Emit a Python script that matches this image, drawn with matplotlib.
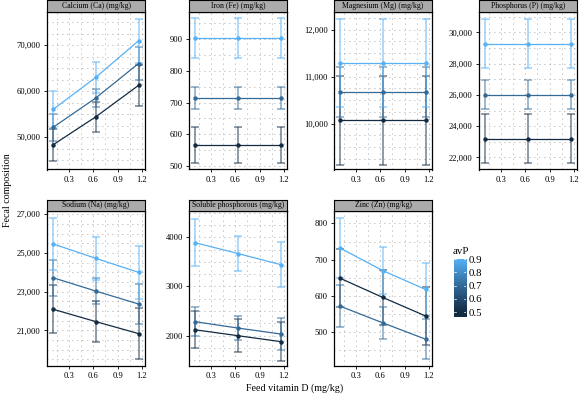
import matplotlib
matplotlib.use("Agg")
import matplotlib.pyplot as plt
import numpy as np
from matplotlib.colors import LinearSegmentedColormap, Normalize
from matplotlib.ticker import FixedLocator, MultipleLocator, FuncFormatter

plt.rcParams['font.family'] = ['Liberation Serif', 'DejaVu Serif']

# ---------------- data ----------------
vitd = [0.1, 0.63, 1.16]
avp_levels = [0.5, 0.7, 0.9]

titles = ["Calcium (Ca) (mg/kg)", "Iron (Fe) (mg/kg)", "Magnesium (Mg) (mg/kg)",
          "Phosphorus (P) (mg/kg)", "Sodium (Na) (mg/kg)", "Soluble phosphorous (mg/kg)",
          "Zinc (Zn) (mg/kg)"]

# means per avP level (0.5, 0.7, 0.9) at each vitamin D level
ca_mean = [[48300, 54400, 61250], [52100, 58500, 66000], [56000, 63000, 70950]]
ca_err = [[3500, 3300, 4400], [2900, 1900, 3500], [4000, 3400, 4750]]
fe_mean = [[566, 566, 566], [715, 715, 715], [903, 903, 903]]
fe_err = [[57, 57, 57], [35, 35, 35], [63, 63, 63]]
mg_mean = [[10070, 10070, 10070], [10665, 10665, 10665], [11290, 11290, 11290]]
mg_err = [[950, 950, 950], [530, 530, 530], [930, 930, 930]]
p_mean = [[23190, 23190, 23190], [26020, 26020, 26020], [29280, 29280, 29280]]
p_err = [[1560, 1560, 1560], [900, 900, 900], [1570, 1570, 1570]]
na_mean = [[22090, 21450, 20830], [23720, 23030, 22360], [25470, 24720, 24000]]
na_err = [[1250, 1080, 1330], [940, 650, 1050], [1330, 1100, 1380]]
sp_mean = [[2120, 2000, 1880], [2285, 2155, 2035], [3890, 3670, 3445]]
sp_err = [[380, 330, 400], [300, 240, 320], [480, 360, 450]]
zn_mean = [[649, 596, 545], [572, 526, 481], [732, 670, 618]]
zn_err = [[80, 75, 80], [58, 45, 55], [82, 65, 74]]

means = [ca_mean, fe_mean, mg_mean, p_mean, na_mean, sp_mean, zn_mean]
errs = [ca_err, fe_err, mg_err, p_err, na_err, sp_err, zn_err]

yticks = [[50000, 60000, 70000], [500, 600, 700, 800, 900], [10000, 11000, 12000],
          [22000, 24000, 26000, 28000, 30000], [21000, 23000, 25000, 27000],
          [2000, 3000, 4000], [500, 600, 700, 800]]
ylims = [(42930, 77150), (490, 983), (9022, 12370), (21230, 31280),
         (19170, 27186), (1390, 4540), (408, 835)]
yminor = [2500, 50, 250, 1000, 500, 250, 50]
comma = [True, True, True, True, True, False, True]
xticks = [0.3, 0.6, 0.9, 1.2]
cbar_ticks = [0.5, 0.6, 0.7, 0.8, 0.9]

# ---------------- layout ----------------
W, H = 579, 396
fig = plt.figure(figsize=(W / 100, H / 100), dpi=100)

cmap = LinearSegmentedColormap.from_list("gg", ["#132B43", "#336A98", "#56B1F7"])
norm = Normalize(0.5, 0.9)

lefts = [47, 189, 334, 479, 47, 189, 334]
pw = 98
rows = [(0.5, 12.3, 169.5), (199.5, 210.7, 365.7)]


def ax_rect(x0, y0, y1):
    return [x0 / W, 1 - y1 / H, pw / W, (y1 - y0) / H]


for i in range(7):
    r = rows[0] if i < 4 else rows[1]
    ax = fig.add_axes(ax_rect(lefts[i], r[1], r[2]))
    # strip
    sax = fig.add_axes(ax_rect(lefts[i], r[0], r[1]))
    sax.set_facecolor("#ABABAB")
    sax.set_xticks([]); sax.set_yticks([])
    for s in sax.spines.values():
        s.set_linewidth(0.8)
    sax.text(0.5, 0.5, titles[i], ha="center", va="center", fontsize=5.6,
             transform=sax.transAxes)

    ax.set_xlim(0.025, 1.24)
    ax.set_ylim(*ylims[i])
    ax.xaxis.set_major_locator(FixedLocator(xticks))
    ax.xaxis.set_minor_locator(MultipleLocator(0.15))
    ax.yaxis.set_major_locator(FixedLocator(yticks[i]))
    ax.yaxis.set_minor_locator(MultipleLocator(yminor[i]))
    if comma[i]:
        ax.yaxis.set_major_formatter(FuncFormatter(lambda v, p: f"{int(round(v)):,}"))
    else:
        ax.yaxis.set_major_formatter(FuncFormatter(lambda v, p: f"{int(round(v))}"))
    ax.xaxis.set_major_formatter(FuncFormatter(lambda v, p: f"{v:.1f}"))
    ax.grid(True, which="both", color="#8A8A8A", linestyle=(0, (1, 5)), linewidth=0.6)
    ax.set_axisbelow(True)
    ax.tick_params(axis="both", which="major", labelsize=6.2, length=2.5, width=0.6,
                   pad=2, colors="black")
    ax.tick_params(axis="both", which="minor", length=0)
    for s in ax.spines.values():
        s.set_linewidth(0.9)

    for k, lev in enumerate(avp_levels):
        c = cmap(norm(lev))
        m = np.array(means[i][k]); e = np.array(errs[i][k])
        ax.errorbar(vitd, m, yerr=e, fmt="none", ecolor=c, alpha=0.6,
                    elinewidth=1.1, capsize=3, capthick=1.1, zorder=2)
        ax.plot(vitd, m, color=c, linewidth=0.9, marker="o", markersize=2.2, zorder=3)

# axis titles
fig.text(8 / W, 1 - 190 / H, "Fecal composition", rotation=90, ha="center",
         va="center", fontsize=7.2)
fig.text(295 / W, 1 - 388 / H, "Feed vitamin D (mg/kg)", ha="center", va="center",
         fontsize=7.2)

# colorbar
cax = fig.add_axes([453.5 / W, 1 - 316.7 / H, 12.5 / W, (316.7 - 258.5) / H])
grad = np.linspace(0.465, 0.905, 256).reshape(-1, 1)
cax.imshow(grad, aspect="auto", cmap=cmap, norm=norm, origin="lower",
           extent=[0, 1, 0.465, 0.905])
cax.set_xlim(0, 1); cax.set_ylim(0.465, 0.905)
cax.set_xticks([])
cax.yaxis.tick_right()
cax.set_yticks(cbar_ticks)
cax.set_yticklabels([f"{t:.1f}" for t in cbar_ticks])
cax.tick_params(axis="y", length=0, labelsize=7.8, pad=2)
for t in cbar_ticks:
    cax.plot([0, 0.2], [t, t], color="white", lw=0.5)
    cax.plot([0.8, 1], [t, t], color="white", lw=0.5)
for s in cax.spines.values():
    s.set_visible(False)
fig.text(453 / W, 1 - 251 / H, "avP", ha="left", va="center", fontsize=7.8)

fig.savefig("out.png", dpi=100)
